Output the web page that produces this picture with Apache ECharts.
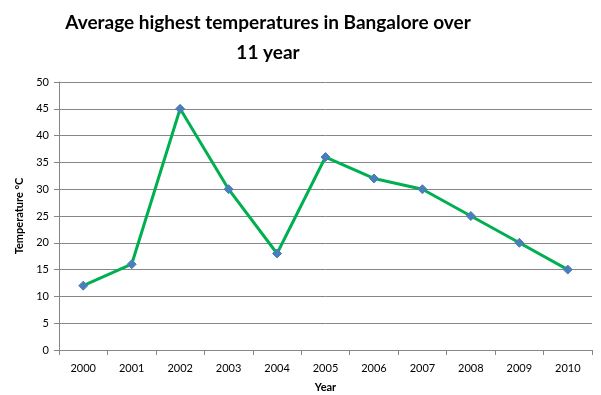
<!DOCTYPE html>
<html><head><meta charset="utf-8">
<script src="https://cdn.jsdelivr.net/npm/echarts@6/dist/echarts.min.js"></script>
<style>html,body{margin:0;padding:0;background:#fff}#c{width:601px;height:395px}</style>
</head><body><div id="c"></div>
<script>
var years = ['2000','2001','2002','2003','2004','2005','2006','2007','2008','2009','2010'];
var temps = [12, 16, 45, 30, 18, 36, 32, 30, 25, 20, 15];
var yTicks = {min: 0, max: 50, interval: 5};
var chart = echarts.init(document.getElementById('c'), null, {renderer:'canvas'});
var F = 'Lato, "Open Sans", sans-serif';
chart.setOption({
  animation: false,
  title: {
    text: 'Average highest temperatures in Bangalore over\n11 year',
    left: 263, top: 3, textAlign: 'center',
    textStyle: {fontFamily: F, fontSize: 19, fontWeight: 'bold', color: '#000', lineHeight: 30}
  },
  grid: {left: 59, right: 9, top: 82, bottom: 45, outerBoundsMode: 'none', containLabel: false},
  xAxis: {
    type: 'category', data: years, boundaryGap: true,
    name: 'Year', nameLocation: 'middle', nameGap: 32,
    nameTextStyle: {fontFamily: F, fontSize: 11, fontWeight: 'bold', color: '#000'},
    axisLine: {lineStyle: {color: '#868686', width: 1}},
    axisTick: {show: true, length: 5, lineStyle: {color: '#868686'}},
    axisLabel: {fontFamily: F, fontSize: 11, color: '#000', margin: 13},
    splitLine: {show: false}
  },
  yAxis: {
    type: 'value', min: yTicks.min, max: yTicks.max, interval: yTicks.interval,
    name: 'Temperature °C', nameLocation: 'middle', nameGap: 29, nameRotate: 90,
    nameTextStyle: {fontFamily: F, fontSize: 11, fontWeight: 'bold', color: '#000'},
    axisLine: {show: true, lineStyle: {color: '#868686', width: 1}},
    axisTick: {show: true, length: 5, lineStyle: {color: '#868686'}},
    axisLabel: {fontFamily: F, fontSize: 11, color: '#000', margin: 10},
    splitLine: {show: true, lineStyle: {color: '#868686', width: 1}}
  },
  series: [{
    type: 'line', data: temps,
    symbol: 'diamond', symbolSize: 9,
    lineStyle: {color: '#00B050', width: 3},
    itemStyle: {color: '#4A7EBB', borderColor: '#4A7EBB'}
  }]
});
</script></body></html>
